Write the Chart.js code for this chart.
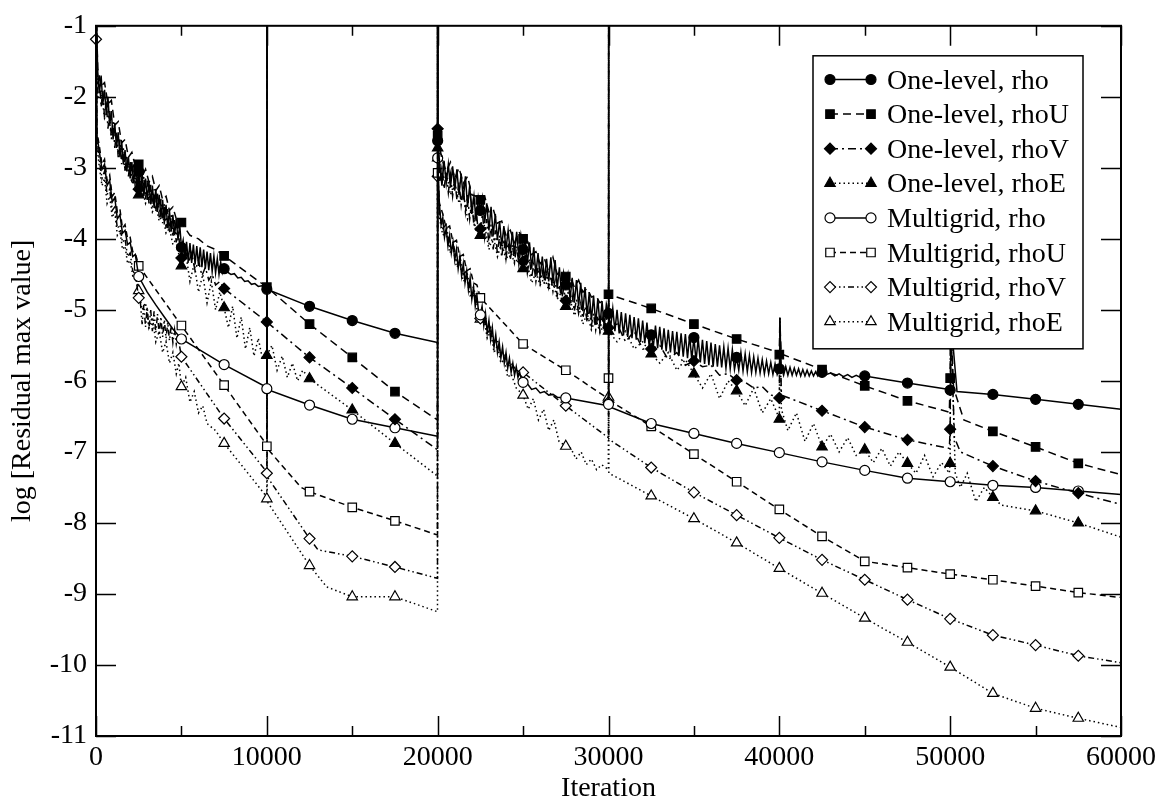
<!DOCTYPE html>
<html>
<head>
<meta charset="utf-8">
<title>Residual history</title>
<script src="https://cdn.jsdelivr.net/npm/chart.js@4/dist/chart.umd.min.js"></script>
<style>
  html, body { margin: 0; padding: 0; background: #fff; }
  canvas { display: block; }
</style>
</head>
<body>
<canvas id="c" width="1166" height="799"></canvas>
<script>
// Axis ranges
const X_MIN = 0, X_MAX = 60000, X_STEP = 10000;
const Y_MIN = -11, Y_MAX = -1, Y_STEP = 1;
const X_TITLE = 'Iteration';
const Y_TITLE = 'log [Residual max value]';

const seriesLabels = [
  'One-level, rho', 'One-level, rhoU', 'One-level, rhoV', 'One-level, rhoE',
  'Multigrid, rho', 'Multigrid, rhoU', 'Multigrid, rhoV', 'Multigrid, rhoE'
];

// [iteration, log10 residual]; values above -1 are restart spikes leaving the plot
const oneLevelRho = [
[0,-0.6],[100,-1.65],[200,-1.95],[300,-1.7],[400,-2.1],[500,-1.9],[600,-2.25],[700,-2.0],[800,-2.4],[900,-2.2],[1000,-2.6],[1100,-2.38],[1200,-2.72],[1300,-2.5],[1400,-2.85],[1500,-2.62],[1600,-2.95],[1700,-2.75],[1800,-3.05],[1900,-2.85],[2000,-3.15],[2100,-2.92],[2200,-3.22],[2300,-2.98],[2400,-3.3],[2500,-3.05],[2600,-3.35],[2700,-3.08],[2800,-3.4],[2900,-3.15],[3000,-3.45],[3100,-3.2],[3200,-3.5],[3300,-3.25],[3400,-3.56],[3500,-3.3],[3600,-3.62],[3700,-3.38],[3800,-3.7],[3900,-3.45],[4000,-3.78],[4100,-3.52],[4200,-3.85],[4300,-3.6],[4400,-3.9],[4500,-3.66],[4600,-3.95],[4700,-3.72],[4800,-4.02],[4900,-3.8],[5000,-4.12],
[5100,-4.02],[5200,-4.3],[5300,-4.04],[5400,-4.32],[5500,-4.06],[5600,-4.34],[5700,-4.08],[5800,-4.36],[5900,-4.1],[6000,-4.38],[6100,-4.12],[6200,-4.4],[6300,-4.15],[6400,-4.42],[6500,-4.18],[6600,-4.44],[6700,-4.2],[6800,-4.46],[6900,-4.24],[7000,-4.48],[7100,-4.28],[7200,-4.5],[7300,-4.33],[7400,-4.48],[7500,-4.42],
[7700,-4.47],[7900,-4.5],[8100,-4.49],[8300,-4.55],[8500,-4.54],[8700,-4.6],[8900,-4.59],[9100,-4.64],[9300,-4.63],[9500,-4.67],[9700,-4.66],[9900,-4.7],[10000,-4.71],
[12500,-4.95],[15000,-5.15],[17500,-5.33],[19990,-5.46],
[20000,0],[20000,-2.62],
[20125,-2.95],[20250,-3.25],[20375,-2.9],[20500,-3.22],[20625,-2.95],[20750,-3.28],[20875,-2.98],[21000,-3.32],[21125,-3.02],[21250,-3.38],[21375,-3.08],[21500,-3.45],[21625,-3.12],[21750,-3.55],[21875,-3.25],[22000,-3.65],[22125,-3.4],[22250,-3.75],[22375,-3.42],[22500,-3.6],[22625,-3.42],[22750,-3.78],[22875,-3.5],[23000,-3.88],[23125,-3.55],[23250,-3.95],[23375,-3.65],[23500,-4.02],[23625,-3.75],[23750,-4.1],[23875,-3.82],[24000,-4.15],[24125,-3.88],[24250,-4.2],[24375,-3.9],[24500,-4.22],[24625,-3.9],[24750,-4.25],[24875,-3.95],[25000,-4.15],
[25125,-4.0],[25250,-4.35],[25375,-4.05],[25500,-4.42],[25625,-4.12],[25750,-4.5],[25875,-4.2],[26000,-4.55],[26125,-4.25],[26250,-4.58],[26375,-4.28],[26500,-4.6],[26625,-4.26],[26750,-4.62],[26875,-4.3],[27000,-4.7],[27125,-4.4],[27250,-4.78],[27375,-4.48],[27500,-4.65],[27625,-4.5],[27750,-4.85],[27875,-4.55],[28000,-4.9],[28125,-4.58],[28250,-4.95],[28375,-4.62],[28500,-5.02],[28625,-4.68],[28750,-5.08],[28875,-4.75],[29000,-5.15],[29125,-4.8],[29250,-5.2],[29375,-4.84],[29500,-5.22],[29625,-4.88],[29750,-5.25],[29875,-4.92],[30000,-5.05],
[30125,-5.25],[30250,-4.98],[30375,-5.3],[30500,-5.0],[30625,-5.33],[30750,-5.03],[30875,-5.36],[31000,-5.05],[31125,-5.38],[31250,-5.07],[31375,-5.4],[31500,-5.1],[31625,-5.42],[31750,-5.12],[31875,-5.45],[32000,-5.15],[32125,-5.47],[32250,-5.18],[32375,-5.5],[32500,-5.35],[32625,-5.52],[32750,-5.22],[32875,-5.54],[33000,-5.24],[33125,-5.56],[33250,-5.26],[33375,-5.58],[33500,-5.28],[33625,-5.6],[33750,-5.3],[33875,-5.62],[34000,-5.31],[34125,-5.64],[34250,-5.33],[34375,-5.66],[34500,-5.34],[34625,-5.68],[34750,-5.36],[34875,-5.7],[35000,-5.39],
[35125,-5.72],[35250,-5.4],[35375,-5.74],[35500,-5.42],[35625,-5.76],[35750,-5.44],[35875,-5.78],[36000,-5.46],[36125,-5.8],[36250,-5.48],[36375,-5.8],[36500,-5.5],[36625,-5.81],[36750,-5.52],[36875,-5.82],[37000,-5.54],[37125,-5.83],[37250,-5.56],[37375,-5.84],[37500,-5.67],[37625,-5.85],[37750,-5.6],[37875,-5.86],[38000,-5.62],[38125,-5.87],[38250,-5.64],[38375,-5.88],[38500,-5.66],[38625,-5.88],[38750,-5.68],[38875,-5.89],[39000,-5.7],[39125,-5.9],[39250,-5.72],[39375,-5.9],[39500,-5.74],[39625,-5.91],[39750,-5.76],[39875,-5.91],[40000,-5.83],[40030,-5.11],[40100,-5.78],
[40250,-5.92],[40375,-5.8],[40500,-5.92],[40625,-5.81],[40750,-5.92],[40875,-5.82],[41000,-5.92],[41125,-5.83],[41250,-5.93],[41375,-5.84],[41500,-5.93],[41625,-5.85],[41750,-5.93],[41875,-5.86],[42000,-5.93],[42125,-5.87],[42250,-5.93],[42375,-5.87],[42500,-5.88],
[42750,-5.91],[43000,-5.89],[43250,-5.93],[43500,-5.9],[43750,-5.94],[44000,-5.91],[44250,-5.95],[44500,-5.92],[44750,-5.95],[45000,-5.93],[47500,-6.03],[49950,-6.12],[50000,-6.13],[50030,-5.1],[50400,-6.15],[52500,-6.19],[55000,-6.26],[57500,-6.33],[60000,-6.4]
];

const oneLevelRhoU = [
[0,-0.6],[100,-1.6],[300,-1.85],[500,-1.8],[700,-2.1],[900,-2.05],[1100,-2.4],[1300,-2.35],[1500,-2.65],[1700,-2.6],[1900,-2.85],[2100,-2.78],[2300,-2.98],[2500,-2.95],[2700,-3.12],[2900,-3.02],[3100,-3.2],[3300,-3.12],[3500,-3.32],[3700,-3.25],[3900,-3.45],[4100,-3.4],[4300,-3.6],[4500,-3.55],[4700,-3.72],[4900,-3.7],[5000,-3.77],
[5500,-3.95],[6000,-4.0],[6500,-4.1],[7000,-4.15],[7500,-4.24],[10000,-4.68],[12500,-5.2],[15000,-5.67],[17500,-6.15],[19990,-6.55],
[20000,0],[20000,-2.55],
[20250,-2.88],[20500,-3.05],[20750,-2.92],[21000,-3.15],[21250,-3.0],[21500,-3.22],[21750,-3.12],[22000,-3.38],[22250,-3.4],[22500,-3.45],[22750,-3.4],[23000,-3.62],[23250,-3.58],[23500,-3.78],[23750,-3.75],[24000,-3.95],[24250,-3.88],[24500,-4.05],[24750,-3.9],[25000,-4.0],[25250,-4.02],[25500,-4.22],[25750,-4.18],[26000,-4.35],[26250,-4.28],[26500,-4.45],[26750,-4.26],[27000,-4.5],[27250,-4.45],[27500,-4.53],[27750,-4.52],[28000,-4.68],[28250,-4.58],[28500,-4.75],[28750,-4.7],[29000,-4.82],[29250,-4.8],[29500,-4.9],[29750,-4.86],[30000,-4.78],
[32500,-4.98],[35000,-5.2],[37500,-5.41],[39950,-5.6],[40000,-5.63],[40030,-5.11],[40100,-5.62],[42500,-5.84],[45000,-6.07],[47500,-6.28],[49950,-6.44],[50000,-5.96],[50030,-5.1],[50200,-6.1],[50800,-6.55],[52500,-6.71],[55000,-6.93],[57500,-7.16],[60000,-7.32]
];

const oneLevelRhoV = [
[0,-0.6],[100,-1.95],[200,-1.72],[300,-2.15],[400,-1.9],[500,-2.3],[600,-2.05],[700,-2.45],[800,-2.2],[900,-2.6],[1000,-2.35],[1100,-2.72],[1200,-2.5],[1300,-2.85],[1400,-2.6],[1500,-2.95],[1600,-2.72],[1700,-3.05],[1800,-2.82],[1900,-3.12],[2000,-2.9],[2100,-3.2],[2200,-2.95],[2300,-3.28],[2400,-3.0],[2500,-3.3],[2600,-3.08],[2700,-3.38],[2800,-3.12],[2900,-3.44],[3000,-3.18],[3100,-3.5],[3200,-3.24],[3300,-3.56],[3400,-3.3],[3500,-3.62],[3600,-3.36],[3700,-3.7],[3800,-3.44],[3900,-3.78],[4000,-3.5],[4100,-3.85],[4200,-3.58],[4300,-3.92],[4400,-3.66],[4500,-3.98],[4600,-3.72],[4700,-4.05],[4800,-3.8],[4900,-4.12],[5000,-4.27],
[5200,-4.1],[5400,-4.35],[5600,-4.2],[5800,-4.45],[6000,-4.3],[6200,-4.52],[6400,-4.4],[6600,-4.58],[6800,-4.5],[7000,-4.65],[7250,-4.6],[7500,-4.7],
[10000,-5.17],[12500,-5.67],[15000,-6.1],[17500,-6.54],[19990,-6.97],
[20000,0],[20000,-2.45],
[20125,-3.2],[20250,-3.0],[20375,-3.3],[20500,-3.05],[20625,-3.35],[20750,-3.1],[20875,-3.4],[21000,-3.15],[21125,-3.45],[21250,-3.2],[21375,-3.52],[21500,-3.28],[21625,-3.62],[21750,-3.38],[21875,-3.72],[22000,-3.48],[22125,-3.82],[22250,-3.58],[22375,-3.9],[22500,-3.86],[22625,-3.65],[22750,-3.98],[22875,-3.72],[23000,-4.08],[23125,-3.8],[23250,-4.15],[23375,-3.88],[23500,-4.22],[23625,-3.95],[23750,-4.26],[23875,-4.0],[24000,-4.28],[24125,-4.05],[24250,-4.3],[24375,-4.08],[24500,-4.32],[24625,-4.1],[24750,-4.36],[24875,-4.12],[25000,-4.32],
[25125,-4.2],[25250,-4.48],[25375,-4.28],[25500,-4.55],[25625,-4.35],[25750,-4.6],[25875,-4.4],[26000,-4.62],[26125,-4.45],[26250,-4.64],[26375,-4.48],[26500,-4.68],[26625,-4.52],[26750,-4.74],[26875,-4.58],[27000,-4.8],[27125,-4.64],[27250,-4.86],[27375,-4.7],[27500,-4.87],[27625,-4.74],[27750,-4.95],[27875,-4.8],[28000,-5.02],[28125,-4.85],[28250,-5.05],[28375,-4.9],[28500,-5.12],[28625,-4.95],[28750,-5.18],[28875,-5.0],[29000,-5.22],[29125,-5.05],[29250,-5.28],[29375,-5.08],[29500,-5.3],[29625,-5.1],[29750,-5.3],[29875,-5.12],[30000,-5.25],
[30500,-5.2],[31000,-5.45],[31500,-5.3],[32000,-5.55],[32500,-5.55],[33000,-5.5],[33500,-5.7],[34000,-5.6],[34500,-5.78],[35000,-5.72],[35500,-5.8],[36000,-5.78],[36500,-5.92],[37000,-5.9],[37500,-5.99],[38000,-6.02],[38500,-6.1],[39000,-6.08],[39500,-6.2],[39950,-6.22],[40000,-6.24],[40030,-5.11],[40120,-6.2],[42500,-6.42],[45000,-6.65],[47500,-6.83],[49950,-6.95],[50000,-6.68],[50030,-5.1],[50250,-6.8],[50600,-7.0],[52500,-7.2],[55000,-7.41],[57500,-7.58],[60000,-7.74]
];

const oneLevelRhoE = [
[0,-0.6],[100,-2.0],[300,-1.9],[500,-2.3],[700,-2.2],[900,-2.55],[1100,-2.48],[1300,-2.8],[1500,-2.72],[1700,-3.02],[1900,-2.95],[2100,-3.22],[2300,-3.12],[2500,-3.38],[2700,-3.28],[2900,-3.5],[3100,-3.38],[3300,-3.62],[3500,-3.52],[3700,-3.75],[3900,-3.66],[4100,-3.92],[4300,-3.85],[4500,-4.08],[4700,-4.0],[4900,-4.3],[5000,-4.38],
[5250,-4.2],[5500,-4.6],[5750,-4.35],[6000,-4.75],[6250,-4.5],[6500,-4.9],[6750,-4.6],[7000,-5.0],[7250,-4.75],[7500,-4.97],[7750,-5.25],[8000,-4.95],[8250,-5.4],[8500,-5.1],[8750,-5.55],[9000,-5.25],[9250,-5.65],[9500,-5.4],[9750,-5.7],[10000,-5.64],[10300,-5.5],[10600,-5.85],[10900,-5.65],[11200,-5.95],[11500,-5.75],[11800,-6.0],[12100,-5.85],[12500,-5.97],[15000,-6.41],[17500,-6.88],[19990,-7.34],
[20000,0],[20000,-2.72],
[20250,-3.2],[20500,-3.05],[20750,-3.38],[21000,-3.2],[21250,-3.5],[21500,-3.35],[21750,-3.72],[22000,-3.55],[22250,-3.9],[22500,-3.95],[22750,-3.8],[23000,-4.15],[23250,-3.95],[23500,-4.25],[23750,-4.05],[24000,-4.3],[24250,-4.15],[24500,-4.35],[24750,-4.25],[25000,-4.42],[25250,-4.35],[25500,-4.62],[25750,-4.48],[26000,-4.65],[26250,-4.55],[26500,-4.72],[26750,-4.6],[27000,-4.85],[27250,-4.75],[27500,-4.95],[27750,-4.85],[28000,-5.08],[28250,-4.95],[28500,-5.2],[28750,-5.05],[29000,-5.28],[29250,-5.12],[29500,-5.32],[29750,-5.2],[30000,-5.3],
[30500,-5.45],[31000,-5.3],[31500,-5.55],[32000,-5.45],[32500,-5.62],[33000,-5.75],[33500,-5.6],[34000,-5.85],[34500,-5.7],[35000,-5.9],[35500,-6.1],[36000,-5.9],[36500,-6.25],[37000,-6.0],[37500,-6.14],[38000,-6.35],[38500,-6.1],[39000,-6.45],[39500,-6.25],[39950,-6.5],[40000,-6.54],[40030,-5.11],[40120,-6.4],[40500,-6.7],[41000,-6.45],[41500,-6.85],[42000,-6.6],[42500,-6.93],[43000,-6.75],[43500,-7.0],[44000,-6.8],[44500,-7.05],[45000,-6.97],[45500,-7.15],[46000,-6.95],[46500,-7.2],[47000,-7.0],[47500,-7.16],[48000,-7.3],[48500,-7.05],[49000,-7.35],[49500,-7.15],[49950,-7.3],[50000,-7.16],[50030,-5.1],[50300,-7.3],[50600,-7.5],[51000,-7.3],[51500,-7.7],[52000,-7.5],[52500,-7.64],[53000,-7.75],[55000,-7.83],[57500,-8.0],[60000,-8.2]
];

const multigridRho = [
[0,-0.6],[60,-2.55],[200,-2.78],[350,-3.02],[500,-2.95],[650,-3.25],[800,-3.18],[950,-3.48],[1100,-3.42],[1250,-3.72],[1400,-3.66],[1550,-3.92],[1700,-3.88],[1850,-4.08],[2000,-4.05],[2150,-4.25],[2300,-4.22],[2500,-4.53],
[3000,-4.75],[3500,-4.93],[4000,-5.1],[4500,-5.27],[5000,-5.41],[7500,-5.77],[9990,-6.09],[10000,-6.11],[10010,0],[10020,-6.12],[12500,-6.34],[15000,-6.54],[17500,-6.66],[19990,-6.78],
[20000,0],[20000,-2.86],
[20100,-3.5],[20200,-3.8],[20300,-3.7],[20400,-3.98],[20500,-3.85],[20600,-4.1],[20700,-3.95],[20800,-4.2],[20900,-4.05],[21000,-4.3],[21100,-4.15],[21200,-4.42],[21300,-4.25],[21400,-4.52],[21500,-4.35],[21600,-4.62],[21700,-4.45],[21800,-4.72],[21900,-4.55],[22000,-4.85],[22100,-4.68],[22200,-4.95],[22300,-4.8],[22400,-5.05],[22500,-5.07],
[22600,-4.95],[22700,-5.22],[22800,-5.05],[22900,-5.32],[23000,-5.15],[23100,-5.42],[23200,-5.25],[23300,-5.52],[23400,-5.35],[23500,-5.6],[23600,-5.45],[23700,-5.68],[23800,-5.52],[23900,-5.75],[24000,-5.6],[24100,-5.82],[24200,-5.68],[24300,-5.88],[24400,-5.75],[24500,-5.92],[24600,-5.8],[24700,-5.95],[24800,-5.88],[24900,-5.98],[25000,-6.02],
[25250,-6.04],[25500,-6.12],[25750,-6.1],[26000,-6.17],[26250,-6.15],[26500,-6.2],[26750,-6.19],[27000,-6.23],[27500,-6.24],[29990,-6.35],[30000,-6.33],[30010,0],[30020,-6.36],
[32500,-6.6],[35000,-6.74],[37500,-6.88],[40000,-7.01],[42500,-7.14],[45000,-7.26],[47500,-7.37],[50000,-7.42],[52500,-7.47],[55000,-7.5],[57500,-7.55],[60000,-7.6]
];

const multigridRhoU = [
[0,-0.6],[60,-2.5],[200,-2.7],[350,-2.95],[500,-2.88],[650,-3.18],[800,-3.1],[950,-3.4],[1100,-3.35],[1250,-3.62],[1400,-3.58],[1550,-3.85],[1700,-3.8],[1850,-4.0],[2000,-3.98],[2150,-4.18],[2300,-4.2],[2500,-4.38],
[3750,-4.8],[5000,-5.22],[7500,-6.06],[9990,-6.9],[10000,-6.92],[10010,0],[10020,-6.95],[12000,-7.5],[12500,-7.56],[15000,-7.78],[17500,-7.97],[19990,-8.17],
[20000,0],[20000,-3.07],
[20100,-3.5],[20300,-3.65],[20500,-3.85],[20700,-3.82],[20900,-4.05],[21100,-4.02],[21300,-4.25],[21500,-4.22],[21700,-4.45],[21900,-4.42],[22100,-4.62],[22300,-4.65],[22500,-4.83],
[25000,-5.48],[27500,-5.85],[29990,-6.25],[30000,-5.96],[30010,0],[30020,-6.27],
[32500,-6.64],[35000,-7.03],[37500,-7.42],[40000,-7.81],[42500,-8.19],[45000,-8.54],[47500,-8.63],[50000,-8.72],[52500,-8.8],[55000,-8.89],[57500,-8.98],[60000,-9.05]
];

const multigridRhoV = [
[0,-1.19],[40,-2.6],[200,-2.9],[350,-3.15],[500,-3.05],[650,-3.38],[800,-3.3],[950,-3.6],[1100,-3.55],[1250,-3.85],[1400,-3.8],[1550,-4.05],[1700,-4.0],[1850,-4.25],[2000,-4.2],[2150,-4.45],[2300,-4.5],[2500,-4.83],
[2600,-4.9],[2700,-5.2],[2800,-4.93],[2900,-5.24],[3000,-4.96],[3100,-5.27],[3200,-4.99],[3300,-5.3],[3400,-5.02],[3500,-5.32],[3600,-5.06],[3700,-5.35],[3800,-5.1],[3900,-5.38],[4000,-5.14],[4100,-5.4],[4200,-5.18],[4300,-5.43],[4400,-5.23],[4500,-5.46],[4600,-5.28],[4700,-5.48],[4800,-5.35],[4900,-5.52],[5000,-5.66],
[7500,-6.53],[9990,-7.28],[10000,-7.3],[10010,0],[10020,-7.35],[12500,-8.22],[13000,-8.38],[15000,-8.47],[17500,-8.62],[19990,-8.78],
[20000,0],[20000,-3.12],
[20100,-3.6],[20300,-3.85],[20500,-3.8],[20700,-4.1],[20900,-4.05],[21100,-4.3],[21300,-4.25],[21500,-4.5],[21700,-4.45],[21900,-4.7],[22100,-4.68],[22300,-4.9],[22500,-5.12],[22700,-5.05],[22900,-5.35],[23100,-5.25],[23300,-5.5],[23500,-5.42],[23700,-5.65],[23900,-5.6],[24100,-5.8],[24300,-5.75],[24600,-5.85],[25000,-5.88],
[27500,-6.35],[29990,-6.8],[30000,-6.3],[30010,0],[30020,-6.82],
[32500,-7.22],[35000,-7.57],[37500,-7.89],[40000,-8.21],[42500,-8.52],[45000,-8.8],[47500,-9.08],[50000,-9.35],[52500,-9.58],[55000,-9.72],[57500,-9.87],[60000,-9.97]
];

const multigridRhoE = [
[0,-0.6],[60,-2.7],[200,-3.0],[350,-3.25],[500,-3.15],[650,-3.5],[800,-3.4],[950,-3.7],[1100,-3.62],[1250,-3.95],[1400,-3.88],[1550,-4.15],[1700,-4.1],[1850,-4.35],[2000,-4.3],[2150,-4.52],[2300,-4.5],[2500,-4.73],
[2700,-5.0],[2900,-4.9],[3100,-5.25],[3300,-5.1],[3500,-5.45],[3700,-5.3],[3900,-5.6],[4100,-5.45],[4300,-5.75],[4500,-5.6],[4700,-5.9],[4850,-5.75],[5000,-6.08],[5250,-5.95],[5500,-6.3],[5750,-6.15],[6000,-6.45],[6250,-6.35],[6500,-6.6],[7000,-6.7],[7500,-6.88],
[9990,-7.63],[10000,-7.66],[10010,0],[10020,-7.7],[12500,-8.6],[13500,-8.9],[15000,-9.04],[17500,-9.04],[19990,-9.25],
[20000,0],[20000,-2.86],
[20100,-3.7],[20300,-3.95],[20500,-3.9],[20700,-4.2],[20900,-4.12],[21100,-4.4],[21300,-4.35],[21500,-4.6],[21700,-4.55],[21900,-4.8],[22100,-4.78],[22300,-5.0],[22500,-5.13],[22700,-5.1],[22900,-5.4],[23100,-5.3],[23300,-5.6],[23500,-5.5],[23700,-5.75],[23900,-5.7],[24100,-5.95],[24300,-5.9],[24600,-6.1],[25000,-6.2],
[25300,-6.4],[25600,-6.25],[25900,-6.55],[26200,-6.4],[26500,-6.7],[26800,-6.55],[27100,-6.85],[27500,-6.92],[27800,-6.95],[28100,-7.1],[28400,-7.0],[28700,-7.18],[29000,-7.1],[29300,-7.25],[29600,-7.18],[29990,-7.25],[30000,-6.23],[30010,0],[30020,-7.3],[30500,-7.36],
[32500,-7.62],[35000,-7.94],[37500,-8.28],[40000,-8.64],[42500,-8.99],[45000,-9.34],[47500,-9.68],[50000,-10.03],[52500,-10.4],[55000,-10.61],[57500,-10.75],[60000,-10.88]
];

const seriesData = [
  oneLevelRho, oneLevelRhoU, oneLevelRhoV, oneLevelRhoE,
  multigridRho, multigridRhoU, multigridRhoV, multigridRhoE
];

// Symbol, fill and line pattern for each curve
const seriesStyles = [
  { shape: 'circle',  filled: true,  radius: 5,   dash: [] },
  { shape: 'rect',    filled: true,  radius: 6,   dash: [8, 5] },
  { shape: 'rectRot', filled: true,  radius: 5.5, dash: [8, 4, 2, 4] },
  { shape: 'triangle',filled: true,  radius: 6,   dash: [1.5, 3] },
  { shape: 'circle',  filled: false, radius: 5,   dash: [] },
  { shape: 'rect',    filled: false, radius: 6,   dash: [6, 4] },
  { shape: 'rectRot', filled: false, radius: 5.5, dash: [6, 3, 1.5, 3, 1.5, 3] },
  { shape: 'triangle',filled: false, radius: 6,   dash: [1.5, 3] }
];

const SYMBOL_EVERY = 2500;
const FONT_FAMILY = '"Liberation Serif", "Times New Roman", Times, serif';

const datasets = seriesData.map((rows, i) => {
  const st = seriesStyles[i];
  return {
    label: seriesLabels[i],
    data: rows.map(r => ({ x: r[0], y: r[1] })),
    borderColor: '#000',
    borderWidth: 1.5,
    borderDash: st.dash,
    pointStyle: st.shape,
    pointBackgroundColor: st.filled ? '#000' : '#fff',
    pointBorderColor: '#000',
    pointBorderWidth: 1.2,
    pointRadius: ctx => {
      const p = ctx.raw;
      return (p && p.x % SYMBOL_EVERY === 0 && p.x < X_MAX && p.y <= Y_MAX) ? st.radius : 0;
    },
    pointHoverRadius: 0,
    tension: 0,
    fill: false,
    clip: { left: 8, top: 0, right: 0, bottom: 0 },
    _style: st
  };
});

// Draws one symbol of the given style at (x, y)
function drawSymbol(ctx, st, x, y) {
  const r = st.radius;
  ctx.beginPath();
  if (st.shape === 'circle') {
    ctx.arc(x, y, r, 0, Math.PI * 2);
  } else if (st.shape === 'rect') {
    const h = Math.SQRT1_2 * r;
    ctx.rect(x - h, y - h, 2 * h, 2 * h);
  } else if (st.shape === 'rectRot') {
    ctx.moveTo(x - r, y); ctx.lineTo(x, y - r); ctx.lineTo(x + r, y); ctx.lineTo(x, y + r);
    ctx.closePath();
  } else {
    const a = Math.PI * 2 / 3;
    ctx.moveTo(x, y - r);
    ctx.lineTo(x + Math.sin(a) * r, y - Math.cos(a) * r);
    ctx.lineTo(x + Math.sin(2 * a) * r, y - Math.cos(2 * a) * r);
    ctx.closePath();
  }
  ctx.fillStyle = st.filled ? '#000' : '#fff';
  ctx.fill();
  ctx.setLineDash([]);
  ctx.lineWidth = 1.2;
  ctx.strokeStyle = '#000';
  ctx.stroke();
}

// Closed frame with inward major/minor tick marks on all four sides
const framePlugin = {
  id: 'frame',
  afterDatasetsDraw(chart) {
    const { ctx, chartArea: a, scales: { x, y } } = chart;
    ctx.save();
    ctx.strokeStyle = '#000';
    ctx.lineWidth = 1.5;
    ctx.setLineDash([]);
    ctx.beginPath();
    const xv = x.ticks.map(t => t.value);
    xv.forEach(v => {
      const px = Math.round(x.getPixelForValue(v)) + 0.5;
      ctx.moveTo(px, a.bottom); ctx.lineTo(px, a.bottom - 20);
      ctx.moveTo(px, a.top); ctx.lineTo(px, a.top + 20);
    });
    for (let i = 0; i < xv.length - 1; i++) {
      const px = Math.round(x.getPixelForValue((xv[i] + xv[i + 1]) / 2)) + 0.5;
      ctx.moveTo(px, a.bottom); ctx.lineTo(px, a.bottom - 10);
      ctx.moveTo(px, a.top); ctx.lineTo(px, a.top + 10);
    }
    y.ticks.forEach(t => {
      const py = Math.round(y.getPixelForValue(t.value)) + 0.5;
      ctx.moveTo(a.left, py); ctx.lineTo(a.left + 20, py);
      ctx.moveTo(a.right, py); ctx.lineTo(a.right - 20, py);
    });
    ctx.stroke();
    ctx.lineWidth = 2;
    ctx.strokeRect(a.left, a.top, a.right - a.left, a.bottom - a.top);
    ctx.restore();
  }
};

// Boxed legend inside the plot, each entry: symbol, line, symbol, label
const legendPlugin = {
  id: 'boxedLegend',
  afterDraw(chart) {
    const { ctx, chartArea: a } = chart;
    const left = a.right - 308, top = a.top + 30, right = a.right - 38, bottom = a.top + 323;
    ctx.save();
    ctx.fillStyle = '#fff';
    ctx.fillRect(left, top, right - left, bottom - top);
    ctx.strokeStyle = '#000';
    ctx.lineWidth = 1.5;
    ctx.setLineDash([]);
    ctx.strokeRect(left, top, right - left, bottom - top);
    ctx.font = '28px ' + FONT_FAMILY;
    ctx.textBaseline = 'alphabetic';
    ctx.textAlign = 'left';
    chart.data.datasets.forEach((ds, i) => {
      const st = ds._style;
      const cy = top + 23.7 + i * 34.6;
      const x1 = left + 17, x2 = left + 58;
      ctx.strokeStyle = '#000';
      ctx.lineWidth = 1.5;
      ctx.setLineDash(st.dash);
      ctx.beginPath(); ctx.moveTo(x1, cy); ctx.lineTo(x2, cy); ctx.stroke();
      drawSymbol(ctx, st, x1, cy);
      drawSymbol(ctx, st, x2, cy);
      ctx.fillStyle = '#000';
      ctx.fillText(ds.label, left + 74, cy + 9);
    });
    ctx.restore();
  }
};

Chart.defaults.font.family = FONT_FAMILY;
Chart.defaults.font.size = 28;
Chart.defaults.color = '#000';

new Chart(document.getElementById('c'), {
  type: 'line',
  data: { datasets },
  options: {
    responsive: false,
    animation: false,
    devicePixelRatio: 1,
    layout: { padding: { top: 18, right: 45, left: 0, bottom: 0 } },
    plugins: { legend: { display: false }, tooltip: { enabled: false } },
    events: [],
    scales: {
      x: {
        type: 'linear',
        min: X_MIN, max: X_MAX,
        grid: { display: false, drawTicks: false },
        border: { display: false },
        ticks: { stepSize: X_STEP, padding: 5, maxRotation: 0, autoSkip: false,
                 callback: v => String(v) },
        title: { display: true, text: X_TITLE, padding: { top: 0, bottom: -6 } },
        afterFit: s => { s.height = 63; }
      },
      y: {
        type: 'linear',
        min: Y_MIN, max: Y_MAX,
        grid: { display: false, drawTicks: false },
        border: { display: false },
        ticks: { stepSize: Y_STEP, padding: 9, autoSkip: false,
                 callback: v => String(v) },
        title: { display: true, text: Y_TITLE, padding: { top: 6, bottom: 0 } },
        afterFit: s => { s.width = 96; }
      }
    }
  },
  plugins: [framePlugin, legendPlugin]
});
</script>
</body>
</html>
